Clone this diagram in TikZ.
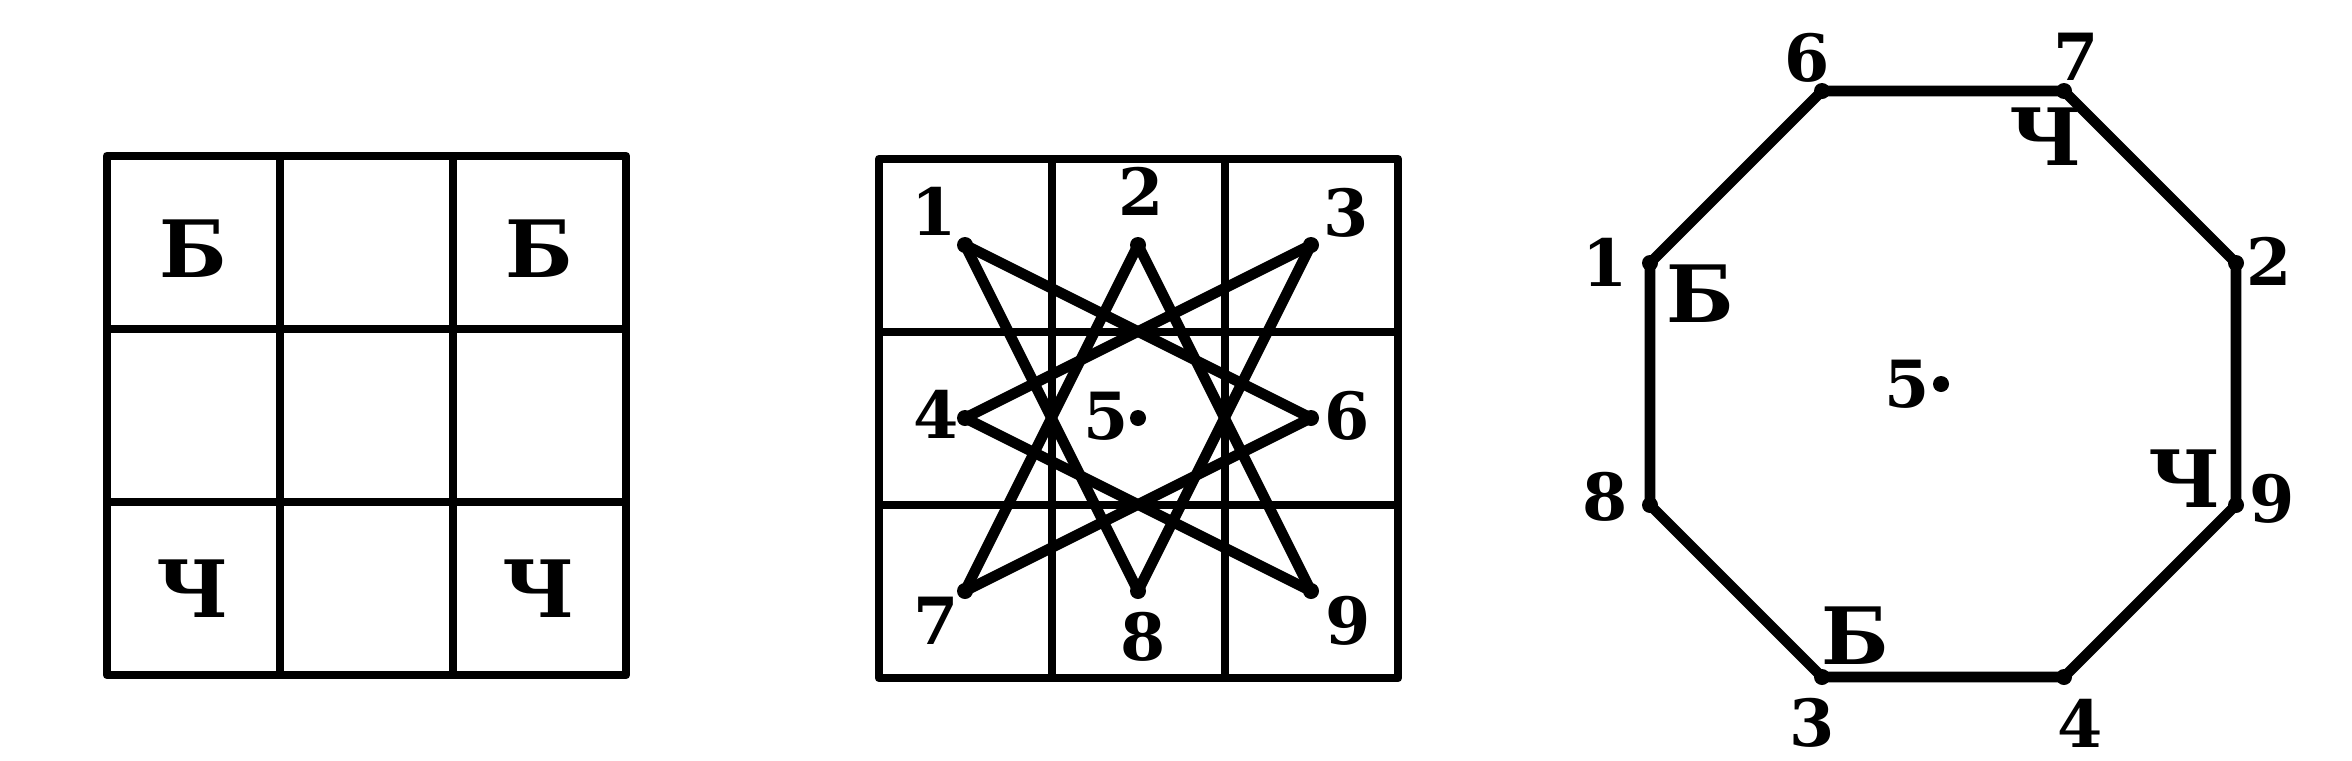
\documentclass[tikz,border=0pt]{standalone}
\usepackage{fontspec}
\setmainfont{DejaVu Serif}
\usepackage{tikz}

\begin{document}
\begin{tikzpicture}[x=.1mm,y=-.1mm,line join=round,
    num/.style={inner sep=0pt,font=\fontsize{18.5pt}{19pt}\selectfont\bfseries},
    lett/.style={inner sep=0pt,font=\fontsize{22.5pt}{23pt}\selectfont\bfseries},
    frame/.style={line width=2.5pt},
    gridline/.style={line width=2.1pt},
    knight/.style={line width=3pt},
    dot/.style={fill=black}]
    \useasboundingbox (0,0) rectangle (2352,761);
    % first board
    \draw[frame] (107,156) rectangle (626,675);
    \foreach \k in {1,2}{
      \draw[gridline] (107+173*\k,156)--(107+173*\k,675);
      \draw[gridline] (107,156+173*\k)--(626,156+173*\k);
    }
    \node[lett] (wa) at (193,249) {Б};
    \node[lett] (wb) at (539,249) {Б};
    \node[lett] (ba) at (193,589) {Ч};
    \node[lett] (bb) at (539,589) {Ч};
    % second board with the moves
    \draw[frame] (879,159) rectangle (1398,678);
    \foreach \k in {1,2}{
      \draw[gridline] (879+173*\k,159)--(879+173*\k,678);
      \draw[gridline] (879,159+173*\k)--(1398,159+173*\k);
    }
    \foreach \n/\c/\r in {1/0/0,2/1/0,3/2/0,4/0/1,5/1/1,6/2/1,7/0/2,8/1/2,9/2/2}{
      \coordinate (p\n) at (965+173*\c,245+173*\r);
    }
    \foreach \a/\b in {1/6,6/7,7/2,2/9,9/4,4/3,3/8,8/1}{
      \draw[knight] (p\a)--(p\b);
    }
    \foreach \n in {1,...,9}{
      \fill[dot] (p\n) circle (8);
    }
    \foreach \n/\dx/\dy in {1/-31/-34,2/3/-54,3/35/-32,4/-29/-4,5/-32/-2,6/36/-2,7/-29/30,8/5/46,9/37/30}{
      \node[num] (q\n) at ([shift={(\dx,\dy)}]p\n) {\n};
    }
    % octagon
    \foreach \n/\x/\y in {6/1822/91,7/2064/91,2/2236/263,9/2236/505,4/2064/677,3/1822/677,8/1650/505,1/1650/263,5/1941/384}{
      \coordinate (o\n) at (\x,\y);
    }
    \draw[knight] (o6)--(o7)--(o2)--(o9)--(o4)--(o3)--(o8)--(o1)--cycle;
    \foreach \n in {1,...,9}{
      \fill[dot] (o\n) circle (8);
    }
    \foreach \n/\dx/\dy in {6/-15/-33,7/12/-34,2/33/-2,9/36/-6,4/16/46,3/-10/46,8/-45/-8,1/-45/-1,5/-34/0}{
      \node[num] (r\n) at ([shift={(\dx,\dy)}]o\n) {\n};
    }
    \node[lett] (wc) at (1700,294) {Б};
    \node[lett] (wd) at (1855,636) {Б};
    \node[lett] (bc) at (2046,137) {Ч};
    \node[lett] (bd) at (2185,479) {Ч};
  \end{tikzpicture}
\end{document}
